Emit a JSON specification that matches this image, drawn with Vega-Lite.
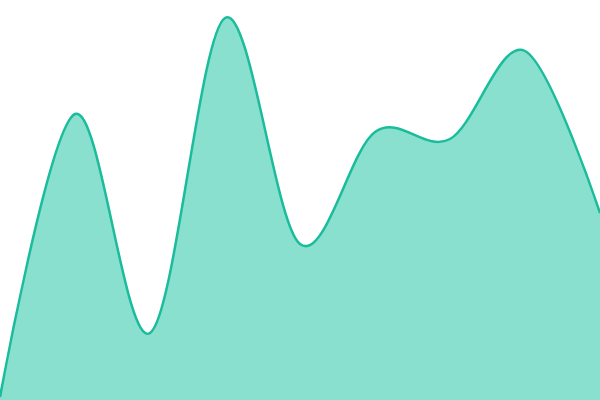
{
  "$schema": "https://vega.github.io/schema/vega-lite/v6.json",
  "width": 600,
  "height": 400,
  "autosize": "none",
  "padding": 0,
  "config": {"view": {"stroke": null}},
  "data": {"values": [
    {"i": 0, "v": 3},
    {"i": 1, "v": 286},
    {"i": 2, "v": 67},
    {"i": 3, "v": 382},
    {"i": 4, "v": 156},
    {"i": 5, "v": 268},
    {"i": 6, "v": 261},
    {"i": 7, "v": 349},
    {"i": 8, "v": 187}
  ]},
  "mark": {
    "type": "area",
    "interpolate": "cardinal",
    "color": "#89e0cf",
    "opacity": 1,
    "line": {"color": "#1abc9c", "strokeWidth": 2.5}
  },
  "encoding": {
    "x": {"field": "i", "type": "quantitative", "scale": {"domain": [0, 8], "nice": false, "zero": false}, "axis": null},
    "y": {"field": "v", "type": "quantitative", "scale": {"domain": [0, 400], "nice": false}, "axis": null}
  }
}
